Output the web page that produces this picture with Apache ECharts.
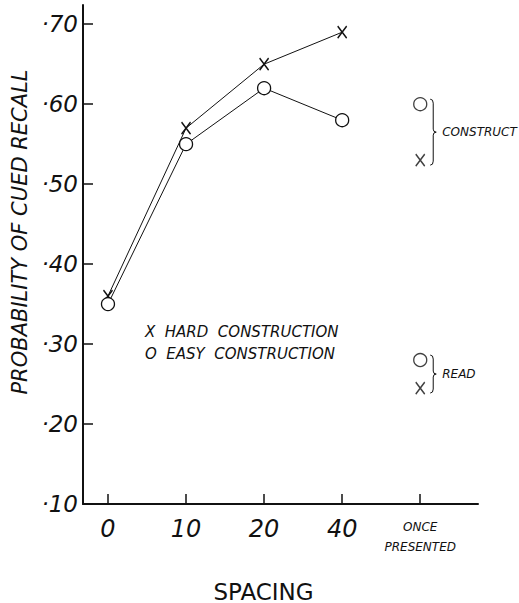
<!DOCTYPE html>
<html>
<head>
<meta charset="utf-8">
<script src="https://cdn.jsdelivr.net/npm/echarts@6/dist/echarts.min.js"></script>
<style>
  html, body { margin: 0; padding: 0; background: #fff; }
  #chart { width: 519px; height: 603px; }
</style>
</head>
<body>
<div id="chart"></div>
<script>
// --- data ---
var spacingPos = [0, 1, 2, 3];
var xTickPos = [0, 1, 2, 3, 4];
var xTickLabels = ['0', '10', '20', '40', 'ONCE\nPRESENTED'];
var yTicks = [0.1, 0.2, 0.3, 0.4, 0.5, 0.6, 0.7];
var hardValues = [0.36, 0.57, 0.65, 0.69];
var easyValues = [0.35, 0.55, 0.62, 0.58];
var oncePos = 4;
var hardOnce = [0.53, 0.245];   // construct, read
var easyOnce = [0.60, 0.28];    // construct, read
var groupNames = ['CONSTRUCT', 'READ'];

var ink = '#111';
var font = '"DejaVu Sans", sans-serif';
var crossPath = 'path://M0,0L10,12M10,0L0,12';

function pairs(xs, ys) {
  return xs.map(function(x, i) { return [x, ys[i]]; });
}

// brace + note next to each once-presented pair
function renderBrace(params, api) {
  var top = api.coord([api.value(0), api.value(1)]);
  var bot = api.coord([api.value(0), api.value(2)]);
  var x = top[0] + 10, y1 = top[1] - 5, y2 = bot[1] + 5, ym = (y1 + y2) / 2;
  var d = 'M' + x + ',' + y1 + ' Q' + (x + 3) + ',' + y1 + ' ' + (x + 3) + ',' + (y1 + 4) +
          ' L' + (x + 3) + ',' + (ym - 3) + ' Q' + (x + 3) + ',' + ym + ' ' + (x + 6) + ',' + ym +
          ' Q' + (x + 3) + ',' + ym + ' ' + (x + 3) + ',' + (ym + 3) +
          ' L' + (x + 3) + ',' + (y2 - 4) + ' Q' + (x + 3) + ',' + y2 + ' ' + x + ',' + y2;
  return {
    type: 'group',
    children: [
      { type: 'path', shape: { pathData: d }, style: { fill: null, stroke: ink, lineWidth: 1 } },
      { type: 'text', x: x + 12, y: ym,
        style: { text: groupNames[params.dataIndex], fill: ink, font: 'italic 12px ' + font, verticalAlign: 'middle' } }
    ]
  };
}

var chart = echarts.init(document.getElementById('chart'), null, { renderer: 'svg' });
chart.setOption({
  animation: false,
  backgroundColor: '#fff',
  grid: { left: 83, right: 41, top: 5, bottom: 99, outerBoundsMode: 'none' },
  xAxis: {
    type: 'value',
    min: -0.32,
    max: 4.74,
    name: 'SPACING',
    nameLocation: 'middle',
    nameGap: 76,
    nameTextStyle: { color: ink, fontSize: 23, fontFamily: font, padding: [0, 34, 0, 0] },
    axisLine: { onZero: false, lineStyle: { color: ink, width: 2 } },
    axisTick: { inside: true, length: 10, customValues: xTickPos, lineStyle: { color: ink, width: 1.5 } },
    axisLabel: {
      customValues: xTickPos,
      margin: 13,
      formatter: function(v) {
        var i = xTickPos.indexOf(Math.round(v));
        if (i === xTickPos.length - 1) return '{s|ONCE}\n{s|PRESENTED}';
        return i >= 0 ? xTickLabels[i] : '';
      },
      color: ink, fontSize: 24, fontFamily: font, fontStyle: 'italic',
      rich: { s: { fontSize: 12, fontFamily: font, color: ink, lineHeight: 20, fontStyle: 'italic' } }
    },
    splitLine: { show: false }
  },
  yAxis: {
    type: 'value',
    min: 0.1,
    max: 0.724,
    name: 'PROBABILITY OF CUED RECALL',
    nameLocation: 'middle',
    nameGap: 43,
    nameRotate: 90,
    nameTextStyle: { color: ink, fontSize: 21, fontFamily: font, fontStyle: 'italic', padding: [0, 0, 0, 45] },
    axisLine: { show: true, onZero: false, lineStyle: { color: ink, width: 2 } },
    axisTick: { show: true, inside: true, length: 10, customValues: yTicks, lineStyle: { color: ink, width: 1.5 } },
    axisLabel: {
      customValues: yTicks,
      margin: 5,
      formatter: function(v) { return '·' + Math.round(v * 100); },
      color: ink, fontSize: 23, fontFamily: font, fontStyle: 'italic'
    },
    splitLine: { show: false }
  },
  graphic: [{
    type: 'text', left: 145, top: 321,
    style: { text: 'X  HARD  CONSTRUCTION\nO  EASY  CONSTRUCTION', fill: ink,
             font: 'italic 15px ' + font, lineHeight: 22 }
  }],
  series: [
    {
      name: 'HARD CONSTRUCTION', type: 'line',
      data: pairs(spacingPos, hardValues),
      symbol: crossPath, symbolSize: [9, 12],
      lineStyle: { color: ink, width: 1 },
      itemStyle: { color: 'none', borderColor: ink, borderWidth: 1.6 }
    },
    {
      name: 'EASY CONSTRUCTION', type: 'line',
      data: pairs(spacingPos, easyValues),
      symbol: 'circle', symbolSize: 13,
      lineStyle: { color: ink, width: 1 },
      itemStyle: { color: '#fff', borderColor: ink, borderWidth: 1.3 }
    },
    {
      type: 'scatter',
      data: hardOnce.map(function(v) { return [oncePos, v]; }),
      symbol: crossPath, symbolSize: [9, 12],
      itemStyle: { color: 'none', borderColor: ink, borderWidth: 1.6 }
    },
    {
      type: 'scatter',
      data: easyOnce.map(function(v) { return [oncePos, v]; }),
      symbol: 'circle', symbolSize: 13,
      itemStyle: { color: '#fff', borderColor: ink, borderWidth: 1.3 }
    },
    {
      type: 'custom',
      renderItem: renderBrace,
      data: groupNames.map(function(n, i) {
        return [oncePos, Math.max(hardOnce[i], easyOnce[i]), Math.min(hardOnce[i], easyOnce[i])];
      }),
      silent: true
    }
  ]
});
</script>
</body>
</html>
